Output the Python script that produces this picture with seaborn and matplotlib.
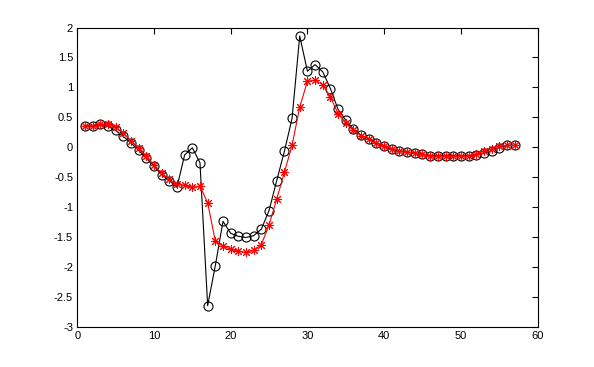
import numpy as np
import pandas as pd
import seaborn as sns
import matplotlib
matplotlib.use('Agg')
import matplotlib.pyplot as plt
from matplotlib.ticker import FormatStrFormatter, MultipleLocator

# valores (x = 1..57)
x = list(range(1, 58))

serie_circulos = [0.36, 0.36, 0.38, 0.35, 0.28, 0.18, 0.07, -0.05, -0.18, -0.32,
                  -0.46, -0.56, -0.67, -0.13, -0.01, -0.26, -2.65, -1.98, -1.24, -1.44,
                  -1.49, -1.51, -1.48, -1.37, -1.06, -0.56, -0.07, 0.48, 1.86, 1.27,
                  1.38, 1.26, 0.98, 0.63, 0.45, 0.30, 0.20, 0.14, 0.07, 0.02,
                  -0.03, -0.06, -0.08, -0.10, -0.12, -0.14, -0.15, -0.15, -0.15, -0.145,
                  -0.14, -0.13, -0.10, -0.06, -0.01, 0.03, 0.03]

serie_estrelas = [0.36, 0.36, 0.38, 0.39, 0.33, 0.23, 0.11, -0.02, -0.15, -0.30,
                  -0.44, -0.54, -0.61, -0.64, -0.67, -0.65, -0.93, -1.57, -1.65, -1.71,
                  -1.74, -1.76, -1.72, -1.63, -1.30, -0.87, -0.42, 0.03, 0.67, 1.10,
                  1.12, 1.04, 0.84, 0.56, 0.41, 0.29, 0.19, 0.14, 0.07, 0.02,
                  -0.03, -0.06, -0.08, -0.10, -0.12, -0.14, -0.15, -0.15, -0.15, -0.145,
                  -0.14, -0.12, -0.065, -0.035, 0.02, 0.03, 0.03]

sns.set_style('white')
plt.rcParams['font.family'] = ['Liberation Sans', 'DejaVu Sans']

fig = plt.figure(figsize=(5.94, 3.67), dpi=100)
ax = fig.add_axes([0.13, 0.11, 0.775, 0.815])

sns.lineplot(x=x, y=serie_circulos, ax=ax, color='black', linewidth=0.8,
             marker='o', markersize=6.5, markerfacecolor='none',
             markeredgecolor='black', markeredgewidth=0.8)
# asterisco estilo MATLAB (+ e x juntos)
sns.lineplot(x=x, y=serie_estrelas, ax=ax, color='red', linewidth=0.8,
             marker=(8, 2, 0), markersize=6.5,
             markeredgecolor='red', markeredgewidth=0.75)

ax.set_xlim(0, 60)
ax.set_ylim(-3, 2)
ax.xaxis.set_major_locator(MultipleLocator(10))
ax.yaxis.set_major_locator(MultipleLocator(0.5))
ax.yaxis.set_major_formatter(FormatStrFormatter('%g'))
ax.xaxis.set_major_formatter(FormatStrFormatter('%g'))

ax.tick_params(direction='in', length=4, width=0.8, top=True, right=True,
               labelsize=8, colors='black', pad=3)
for s in ax.spines.values():
    s.set_visible(True)
    s.set_color('black')
    s.set_linewidth(0.8)

fig.savefig('out.png', dpi=100, facecolor='white')
